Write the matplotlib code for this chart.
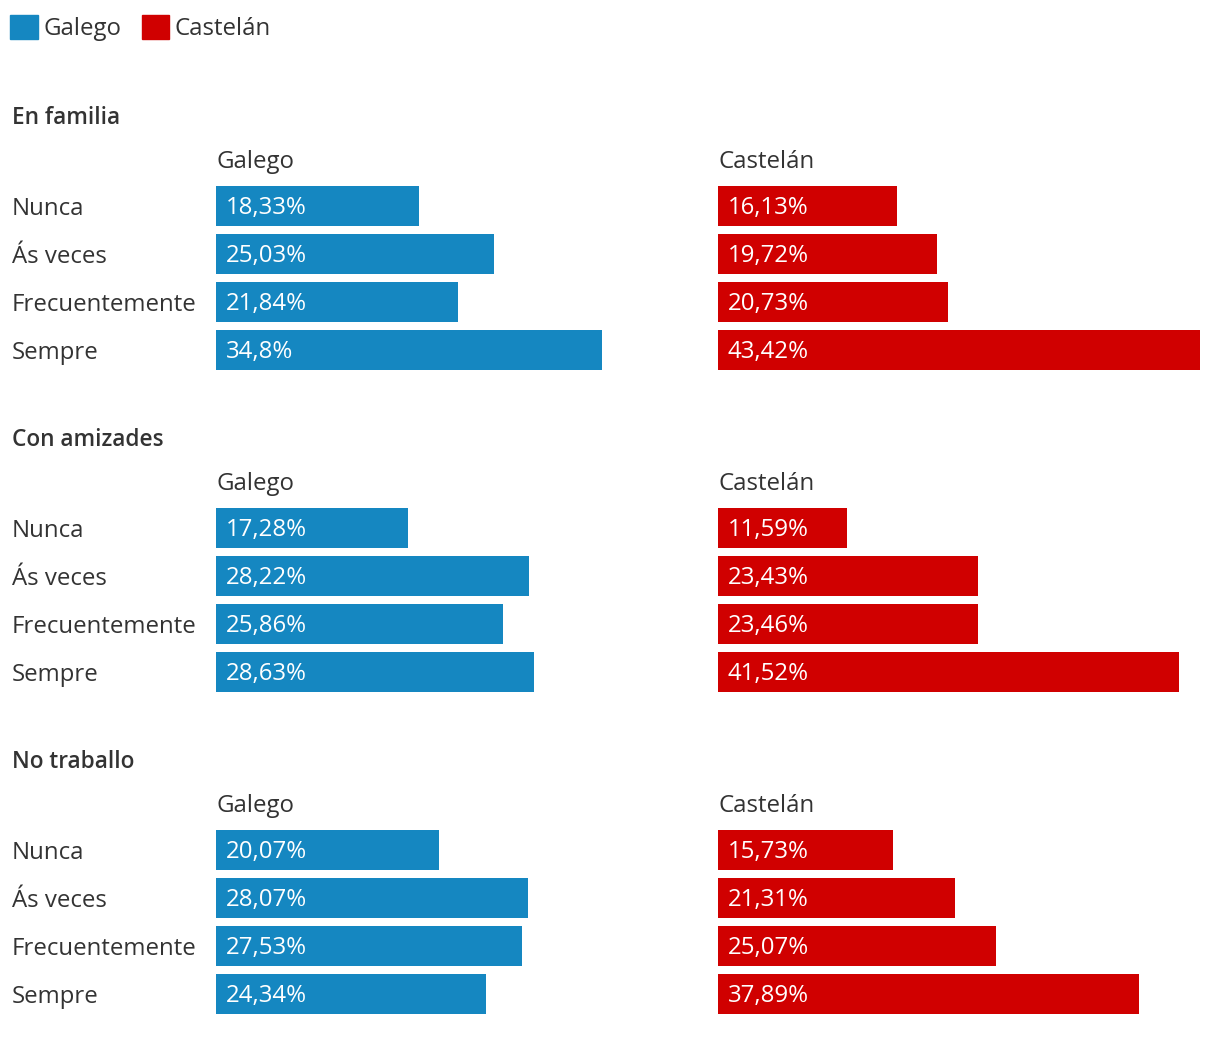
import matplotlib.pyplot as plt
from matplotlib.patches import Patch

plt.rcParams['font.family'] = ['Open Sans', 'DejaVu Sans']

groups = ["En familia", "Con amizades", "No traballo"]
answers = ["Nunca", "Ás veces", "Frecuentemente", "Sempre"]
galego = [
    [18.33, 25.03, 21.84, 34.8],
    [17.28, 28.22, 25.86, 28.63],
    [20.07, 28.07, 27.53, 24.34],
]
castelan = [
    [16.13, 19.72, 20.73, 43.42],
    [11.59, 23.43, 23.46, 41.52],
    [15.73, 21.31, 25.07, 37.89],
]
langs = ["Galego", "Castelán"]
colors = ["#1587c1", "#d00000"]
text_col = "#333333"

W, H = 1220, 1056
fig = plt.figure(figsize=(W / 100, H / 100), dpi=100)
fs = 17.3
px_per_pct = 11.1


def px_box(left, top, width, height):
    return [left / W, 1 - (top + height) / H, width / W, height / H]


def fmt(v):
    return f"{v:g}".replace(".", ",") + "%"


for g, name in enumerate(groups):
    off = 322 * g
    fig.text(12 / W, 1 - (114.5 + off) / H, name, fontsize=16.3, fontweight=600,
             color=text_col, va="center_baseline", ha="left")
    for k, (lang, vals) in enumerate(zip(langs, [galego[g], castelan[g]])):
        left = 216 if k == 0 else 718
        width = 484 if k == 0 else 482
        ax = fig.add_axes(px_box(left, 182 + off, width, 192))
        ax.barh(range(4), vals, height=40 / 48, color=colors[k])
        ax.set_xlim(0, width / px_per_pct)
        ax.set_ylim(3.5, -0.5)
        ax.set_xticks([])
        for s in ax.spines.values():
            s.set_visible(False)
        if k == 0:
            ax.set_yticks(range(4))
            ax.set_yticklabels(answers, fontsize=fs, color=text_col, ha="left",
                               va="center_baseline")
            ax.tick_params(axis="y", length=0, pad=(216 - 12) * 0.72)
            for lab in ax.get_yticklabels():
                lab.set_y(lab.get_position()[1])
        else:
            ax.set_yticks([])
        for i, v in enumerate(vals):
            ax.annotate(fmt(v), xy=(0, i), xytext=(7, 0.7), textcoords="offset points",
                        color="white", fontsize=fs, va="center_baseline", ha="left")
        ax.text(0, 1 + 23 / 192, lang, transform=ax.transAxes, fontsize=fs,
                color=text_col, va="center_baseline", ha="left")

handles = [Patch(color=c) for c in colors]
leg = fig.legend(handles, langs, loc="upper left",
                 bbox_to_anchor=(-9 / W, 1 + 4 / H),
                 frameon=False, fontsize=fs, handlelength=1.15, handleheight=1.15,
                 handletextpad=0.22, columnspacing=0.85, ncol=2, borderaxespad=0.5,
                 borderpad=0.3)
for t in leg.get_texts():
    t.set_color(text_col)

fig.savefig("out.png", dpi=100)
